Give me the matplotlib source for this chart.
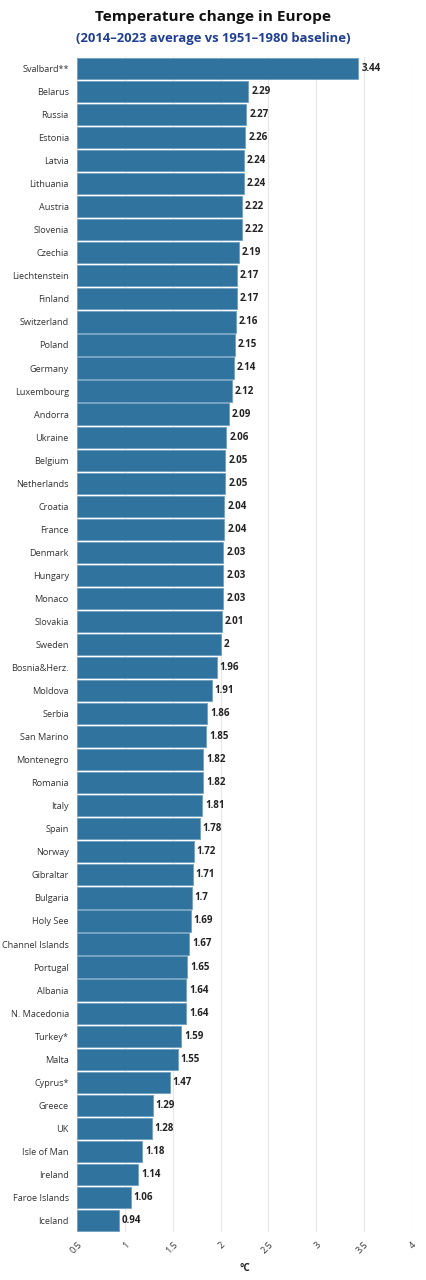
import matplotlib.pyplot as plt

countries = ["Svalbard**", "Belarus", "Russia", "Estonia", "Latvia", "Lithuania", "Austria",
             "Slovenia", "Czechia", "Liechtenstein", "Finland", "Switzerland", "Poland",
             "Germany", "Luxembourg", "Andorra", "Ukraine", "Belgium", "Netherlands",
             "Croatia", "France", "Denmark", "Hungary", "Monaco", "Slovakia", "Sweden",
             "Bosnia&Herz.", "Moldova", "Serbia", "San Marino", "Montenegro", "Romania",
             "Italy", "Spain", "Norway", "Gibraltar", "Bulgaria", "Holy See",
             "Channel Islands", "Portugal", "Albania", "N. Macedonia", "Turkey*", "Malta",
             "Cyprus*", "Greece", "UK", "Isle of Man", "Ireland", "Faroe Islands", "Iceland"]
values = [3.44, 2.29, 2.27, 2.26, 2.24, 2.24, 2.22, 2.22, 2.19, 2.17, 2.17, 2.16, 2.15,
          2.14, 2.12, 2.09, 2.06, 2.05, 2.05, 2.04, 2.04, 2.03, 2.03, 2.03, 2.01, 2,
          1.96, 1.91, 1.86, 1.85, 1.82, 1.82, 1.81, 1.78, 1.72, 1.71, 1.7, 1.69,
          1.67, 1.65, 1.64, 1.64, 1.59, 1.55, 1.47, 1.29, 1.28, 1.18, 1.14, 1.06, 0.94]
ticks = [0.5, 1, 1.5, 2, 2.5, 3, 3.5, 4]
tick_labels = ["0.5", "1", "1.5", "2", "2.5", "3", "3.5", "4"]

plt.rcParams['font.family'] = ['Open Sans', 'DejaVu Sans']

fig = plt.figure(figsize=(4.26, 12.8), dpi=100)
ax = fig.add_axes([0.181, 0.0375, 0.786, 0.918])

pos = list(range(len(countries)))
ax.barh(pos, [v - 0.5 for v in values], left=0.5, height=0.92,
        color='#2f739e', edgecolor='#6f9fbf', linewidth=0.6, zorder=2)
for p, v in zip(pos, values):
    ax.text(v + 0.03, p, f"{v:g}", va='center', ha='left', fontsize=7,
            fontweight='bold', color='#222222')

ax.set_ylim(len(countries) - 0.5, -0.5)
ax.set_xlim(0.5, 4)
ax.set_yticks(pos)
ax.set_yticklabels(countries, fontsize=6.6, color='#333333')
ax.set_xticks(ticks)
ax.set_xticklabels(tick_labels, fontsize=6.6, color='#333333', rotation=45,
                   ha='right', rotation_mode='anchor')
ax.tick_params(axis='both', length=0, pad=6)
ax.grid(axis='x', color='#e6e6e6', linewidth=0.8, zorder=0)
ax.set_axisbelow(True)
for s in ax.spines.values():
    s.set_visible(False)
ax.set_xlabel('°C', fontsize=7.2, fontweight='bold', color='#222222', labelpad=5)

fig.text(0.5, 0.987, 'Temperature change in Europe', ha='center', va='center',
         fontsize=11.1, fontweight='bold', color='#111111')
fig.text(0.5, 0.970, '(2014–2023 average vs 1951–1980 baseline)', ha='center',
         va='center', fontsize=9.4, fontweight='bold', color='#1f3f95')

fig.savefig('out.png', dpi=100)
